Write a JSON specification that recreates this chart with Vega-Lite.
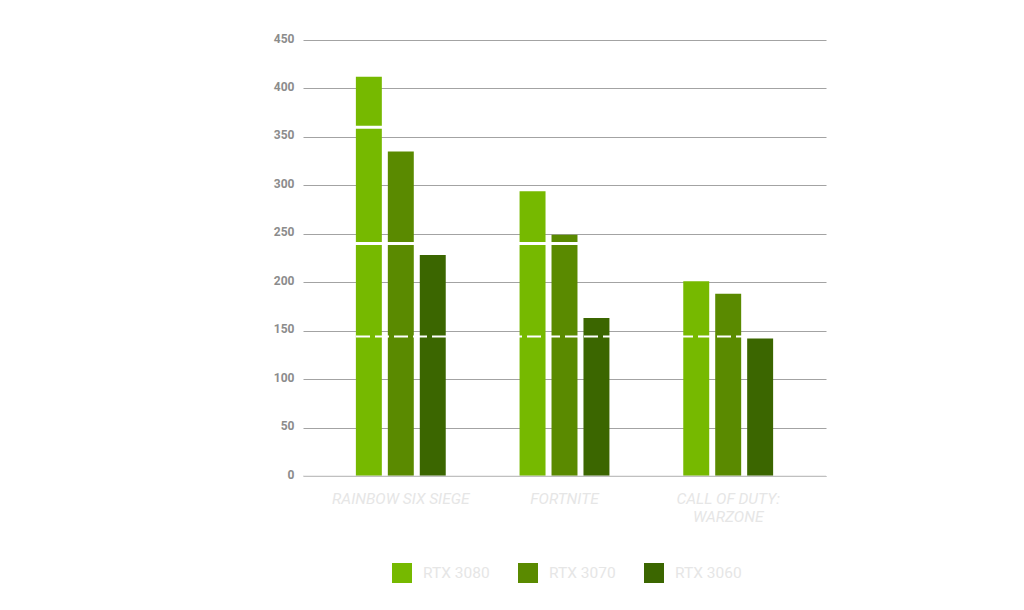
{
  "$schema": "https://vega.github.io/schema/vega-lite/v6.json",
  "autosize": {"type": "none"},
  "padding": {"left": 303, "top": 40, "right": 198, "bottom": 134},
  "width": 523,
  "height": 436,
  "background": "white",
  "config": {"view": {"stroke": null}, "font": "Roboto"},
  "datasets": {
    "bars": [
      {"game": "RAINBOW SIX SIEGE", "gpu": "RTX 3080", "fps": 412},
      {"game": "RAINBOW SIX SIEGE", "gpu": "RTX 3070", "fps": 335},
      {"game": "RAINBOW SIX SIEGE", "gpu": "RTX 3060", "fps": 228},
      {"game": "FORTNITE", "gpu": "RTX 3080", "fps": 294},
      {"game": "FORTNITE", "gpu": "RTX 3070", "fps": 249},
      {"game": "FORTNITE", "gpu": "RTX 3060", "fps": 163},
      {"game": "CALL OF DUTY: WARZONE", "gpu": "RTX 3080", "fps": 201},
      {"game": "CALL OF DUTY: WARZONE", "gpu": "RTX 3070", "fps": 188},
      {"game": "CALL OF DUTY: WARZONE", "gpu": "RTX 3060", "fps": 142}
    ],
    "solid": [{"hz": 360}, {"hz": 240}],
    "dashed": [{"hz": 144}]
  },
  "layer": [
    {
      "data": {"name": "bars"},
      "mark": {"type": "bar"},
      "encoding": {
        "x": {
          "field": "game", "type": "nominal",
          "sort": ["RAINBOW SIX SIEGE", "FORTNITE", "CALL OF DUTY: WARZONE"],
          "scale": {"paddingInner": 0.451, "paddingOuter": 0.323},
          "axis": {
            "title": null, "ticks": false, "domain": false, "labelAngle": 0,
            "labelFont": "Roboto", "labelFontStyle": "italic", "labelFontSize": 15.5,
            "labelColor": "#e6e6e6", "labelPadding": 15, "labelLineHeight": 18,
            "labelExpr": "datum.value == 'CALL OF DUTY: WARZONE' ? ['CALL OF DUTY:', 'WARZONE'] : datum.value"
          }
        },
        "xOffset": {
          "field": "gpu", "type": "nominal",
          "sort": ["RTX 3080", "RTX 3070", "RTX 3060"],
          "scale": {"paddingInner": 0.1875, "paddingOuter": 0}
        },
        "y": {
          "field": "fps", "type": "quantitative",
          "scale": {"domain": [0, 450]},
          "axis": {
            "title": null, "values": [0, 50, 100, 150, 200, 250, 300, 350, 400, 450],
            "ticks": false, "domain": false, "gridColor": "#a3a3a3", "gridWidth": 1,
            "gridOpacity": 1,
            "labelFont": "Roboto", "labelFontWeight": "bold", "labelFontSize": 12,
            "labelColor": "#8c8c8c", "labelPadding": 9, "labelOffset": -2
          }
        },
        "color": {
          "field": "gpu", "type": "nominal",
          "sort": ["RTX 3080", "RTX 3070", "RTX 3060"],
          "scale": {"domain": ["RTX 3080", "RTX 3070", "RTX 3060"], "range": ["#76b900", "#5a8a00", "#3b6600"]},
          "legend": {
            "title": null, "orient": "none", "direction": "horizontal",
            "legendX": 89, "legendY": 523, "padding": 0,
            "symbolType": "square", "symbolSize": 400, "symbolStrokeWidth": 0,
            "symbolOpacity": 1,
            "labelFont": "Roboto", "labelFontSize": 15.5, "labelColor": "#e6e6e6",
            "labelOffset": 11, "columnPadding": 28, "labelLimit": 200
          }
        }
      }
    },
    {
      "data": {"values": [{"v": 0}]},
      "mark": {"type": "rule", "color": "#dddddd", "strokeWidth": 1},
      "encoding": {"y": {"field": "v", "type": "quantitative"}}
    },
    {
      "data": {"name": "solid"},
      "mark": {"type": "rule", "color": "white", "strokeWidth": 3},
      "encoding": {"y": {"field": "hz", "type": "quantitative"}}
    },
    {
      "data": {"name": "dashed"},
      "mark": {"type": "rule", "color": "white", "strokeWidth": 2, "strokeDash": [14, 5]},
      "encoding": {"y": {"field": "hz", "type": "quantitative"}}
    }
  ]
}
